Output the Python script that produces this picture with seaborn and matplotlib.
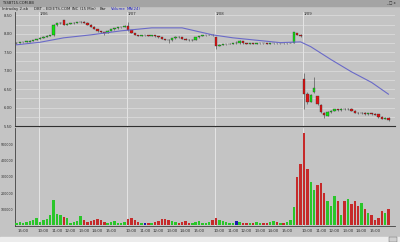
import numpy as np
import pandas as pd
import matplotlib
matplotlib.use("Agg")
import matplotlib.pyplot as plt
import seaborn as sns

# ---------------- data ----------------
opens = [7.74, 7.76, 7.77, 7.78, 7.79, 7.81, 7.83,
         7.86, 7.89, 7.92, 7.95, 7.97, 8.24, 8.28, 8.36, 8.25, 8.27, 8.28, 8.30, 8.31, 8.32, 8.30, 8.25, 8.19, 8.13, 8.07, 8.04, 8.02, 8.08, 8.12, 8.15, 8.17, 8.18,
         8.22, 8.10, 8.02, 7.97, 7.95, 7.96, 7.96, 7.95, 7.96, 7.93, 7.90, 7.86, 7.84, 7.82, 7.88, 7.92, 7.90, 7.87, 7.84, 7.82, 7.84, 7.90, 7.94, 7.96, 7.97, 7.98,
         7.90, 7.68, 7.70, 7.71, 7.72, 7.73, 7.74, 7.74, 7.80, 7.74, 7.73, 7.74, 7.73, 7.74, 7.75, 7.74, 7.73, 7.74, 7.75, 7.74, 7.75, 7.74, 7.75, 7.76, 8.02, 7.98,
         6.78, 6.38, 6.16, 6.43, 6.30, 6.08, 5.85, 5.78, 5.88, 5.92, 5.95, 5.94, 5.96, 5.95, 5.97, 5.92, 5.86, 5.84, 5.85, 5.83, 5.84, 5.82, 5.82, 5.74, 5.70, 5.73]
closes = [7.76, 7.77, 7.78, 7.80, 7.81, 7.83, 7.86,
          7.89, 7.92, 7.95, 7.97, 8.24, 8.28, 8.30, 8.25, 8.27, 8.28, 8.30, 8.31, 8.32, 8.30, 8.25, 8.19, 8.13, 8.07, 8.04, 8.02, 8.08, 8.12, 8.15, 8.17, 8.18, 8.20,
          8.10, 8.02, 7.97, 7.95, 7.96, 7.96, 7.95, 7.96, 7.93, 7.90, 7.86, 7.84, 7.82, 7.88, 7.92, 7.90, 7.87, 7.84, 7.82, 7.84, 7.90, 7.94, 7.96, 7.97, 7.98, 7.96,
          7.68, 7.70, 7.71, 7.72, 7.73, 7.74, 7.74, 7.80, 7.74, 7.73, 7.74, 7.73, 7.74, 7.75, 7.74, 7.73, 7.74, 7.75, 7.74, 7.75, 7.74, 7.75, 7.76, 8.05, 7.98, 7.93,
          6.38, 6.16, 6.35, 6.52, 6.10, 5.87, 5.80, 5.88, 5.92, 5.95, 5.94, 5.96, 5.95, 5.97, 5.92, 5.86, 5.84, 5.85, 5.83, 5.84, 5.82, 5.80, 5.74, 5.70, 5.73, 5.66]
highs = [7.77, 7.78, 7.79, 7.81, 7.82, 7.84, 7.87,
         7.90, 7.93, 7.96, 7.98, 8.27, 8.30, 8.32, 8.38, 8.29, 8.30, 8.31, 8.33, 8.34, 8.34, 8.31, 8.26, 8.20, 8.14, 8.08, 8.05, 8.09, 8.13, 8.16, 8.18, 8.19, 8.23,
         8.33, 8.11, 8.03, 7.98, 7.97, 7.98, 7.97, 7.97, 7.97, 7.94, 7.91, 7.87, 7.85, 7.89, 7.94, 7.93, 7.91, 7.88, 7.85, 7.85, 7.91, 7.95, 7.97, 7.98, 7.99, 7.99,
         7.92, 7.72, 7.72, 7.73, 7.74, 7.75, 7.81, 7.82, 7.81, 7.75, 7.75, 7.75, 7.75, 7.76, 7.76, 7.75, 7.75, 7.76, 7.76, 7.76, 7.76, 7.76, 7.77, 8.06, 8.03, 7.99,
         6.95, 6.42, 6.38, 6.82, 6.32, 6.10, 5.88, 5.90, 5.94, 5.97, 5.97, 5.98, 5.98, 5.99, 5.98, 5.93, 5.88, 5.87, 5.87, 5.86, 5.86, 5.84, 5.83, 5.76, 5.74, 5.75]
lows = [7.73, 7.75, 7.76, 7.77, 7.78, 7.80, 7.82,
        7.85, 7.88, 7.91, 7.94, 7.94, 8.22, 8.26, 8.23, 8.24, 8.26, 8.27, 8.29, 8.30, 8.29, 8.24, 8.18, 8.12, 8.06, 8.03, 7.98, 8.01, 8.07, 8.11, 8.14, 8.16, 8.17,
        8.08, 8.01, 7.96, 7.94, 7.94, 7.95, 7.94, 7.94, 7.92, 7.89, 7.85, 7.83, 7.76, 7.81, 7.87, 7.89, 7.86, 7.83, 7.81, 7.81, 7.83, 7.89, 7.93, 7.95, 7.96, 7.95,
        7.60, 7.66, 7.69, 7.70, 7.71, 7.72, 7.73, 7.73, 7.72, 7.72, 7.72, 7.72, 7.72, 7.73, 7.73, 7.72, 7.72, 7.73, 7.73, 7.73, 7.73, 7.73, 7.75, 7.75, 7.96, 7.92,
        5.95, 6.10, 6.14, 6.40, 6.08, 5.85, 5.73, 5.76, 5.86, 5.90, 5.92, 5.92, 5.93, 5.94, 5.90, 5.84, 5.82, 5.82, 5.81, 5.81, 5.80, 5.79, 5.72, 5.68, 5.69, 5.64]
volumes = [15000, 20000, 12000, 18000, 25000, 30000, 45000,
           20000, 30000, 40000, 60000, 155000, 70000, 60000, 50000, 45000, 10000, 20000, 25000, 55000, 30000, 20000, 25000, 30000, 35000, 30000, 20000, 15000, 20000, 25000, 15000, 10000, 20000,
           35000, 45000, 30000, 20000, 15000, 10000, 15000, 10000, 20000, 25000, 40000, 35000, 30000, 25000, 20000, 15000, 20000, 25000, 15000, 10000, 20000, 25000, 15000, 10000, 20000, 30000,
           45000, 30000, 25000, 20000, 15000, 10000, 25000, 20000, 15000, 10000, 15000, 10000, 20000, 15000, 10000, 15000, 20000, 25000, 20000, 15000, 10000, 20000, 30000, 110000, 300000, 380000,
           575000, 350000, 270000, 220000, 250000, 260000, 200000, 150000, 120000, 180000, 150000, 60000, 150000, 160000, 130000, 150000, 120000, 140000, 100000, 75000, 60000, 30000, 45000, 85000, 75000, 100000]
ma_index = [0, 7, 14, 22, 31, 40, 49, 58, 64, 78, 84, 87, 93, 99, 105, 110]
ma_values = [7.70, 7.77, 7.89, 7.97, 8.08, 8.16, 8.16, 7.97, 7.89, 7.76, 7.78, 7.65, 7.30, 6.97, 6.68, 6.36]
day_starts = [7, 33, 59, 85]
day_labels = ["1/06", "1/07", "1/08", "1/09"]
time_tick_pos = [2] + [s + k for s in day_starts for k in (1, 5, 9, 13, 17, 21)]
time_tick_labels = ["15:00"] + ["10:00", "11:00", "12:00", "13:00", "14:00", "15:00"] * 4
price_ticks = [5.50, 6.00, 6.50, 7.00, 7.50, 8.00, 8.50]
vol_ticks = [100000, 200000, 300000, 400000, 500000]

# ---------------- styling ----------------
BG = "#c4c4c4"
GRID = "#dadada"
GREEN = "#10e010"
RED = "#e01010"
BLUE = "#0000c8"
sns.set_style("white", {"axes.facecolor": BG, "figure.facecolor": BG})
plt.rcParams["font.family"] = ["DejaVu Sans"]

W, H = 400, 242
fig = plt.figure(figsize=(W / 100, H / 100), dpi=100)
fig.patch.set_facecolor(BG)

def rect(x0, y0, x1, y1):
    return [x0 / W, 1 - y1 / H, (x1 - x0) / W, (y1 - y0) / H]

# title bar
fig.patches.append(plt.Rectangle((0, 1 - 6 / H), 1, 6 / H, transform=fig.transFigure,
                                 color="#a4a4a4", zorder=0))
fig.text(2 / W, 1 - 3 / H, "TSSBT15.COM.BB", fontsize=2.6, va="center", color="#202020")
fig.text(396 / W, 1 - 3 / H, "_ □ x", fontsize=2.6, va="center", ha="right", color="#202020")
# header row
hy = 1 - 9 / H
fig.text(2 / W, hy, "Intraday 2.ab", fontsize=2.8, va="center", color="#202020")
fig.text(34 / W, hy, "DBT - EDIETS.COM INC (15 Min)", fontsize=2.8, va="center", color="#202020")
fig.text(100 / W, hy, "Bar", fontsize=2.8, va="center", color="#202020")
fig.text(111 / W, hy, "Volume", fontsize=2.8, va="center", color="#2020c0")
fig.text(127 / W, hy, "MA(24)", fontsize=2.8, va="center", color="#2020c0")

n = len(closes)
idx = np.arange(n)
df = pd.DataFrame({"i": idx, "open": opens, "close": closes, "high": highs,
                   "low": lows, "volume": volumes})
df["dir"] = np.where(df["close"] > df["open"], "up",
                     np.where(df["close"] < df["open"], "down", "flat"))
pal = {"up": GREEN, "down": RED, "flat": BLUE}

# ---------------- price panel ----------------
ax1 = fig.add_axes(rect(15, 12, 395, 126))
ax1.set_facecolor(BG)
xlim = (-0.4, 111.9)
ax1.set_xlim(*xlim)
ax1.set_ylim(5.51, 8.59)
for p in np.arange(5.75, 8.6, 0.25):
    ax1.axhline(p, color=GRID, lw=0.6, zorder=0)
for s in day_starts:
    ax1.axvline(s - 0.3, color="#e4e4e4", lw=0.7, zorder=0)
for s, lab in zip(day_starts, day_labels):
    ax1.text(s, 8.585, lab, fontsize=2.8, va="top", ha="left", color="#303030")

ax1.vlines(df["i"], df["low"], df["high"], color="#404040", lw=0.4, zorder=2)
body_bottom = np.minimum(df["open"], df["close"])
body_h = np.maximum(np.abs(df["close"] - df["open"]), 0.008)
ax1.bar(df["i"], body_h, bottom=body_bottom, width=0.72,
        color=[pal[d] for d in df["dir"]], edgecolor="#303030", linewidth=0.25, zorder=3)
ma_df = pd.DataFrame({"i": ma_index, "ma": ma_values})
sns.lineplot(data=ma_df, x="i", y="ma", ax=ax1, color="#6a6ac8", lw=0.8, zorder=4)
ax1.set_xlabel("")
ax1.set_ylabel("")
ax1.set_yticks(price_ticks)
ax1.set_yticklabels([f"{p:.2f}" for p in price_ticks])
ax1.set_xticks([])
ax1.tick_params(axis="y", labelsize=2.8, length=1.2, width=0.4, pad=0.6, colors="#303030")
for sp in ("top", "right"):
    ax1.spines[sp].set_visible(False)
ax1.spines["left"].set_color("#404040")
ax1.spines["left"].set_linewidth(0.6)
ax1.spines["bottom"].set_color("#303030")
ax1.spines["bottom"].set_linewidth(0.8)

# ---------------- volume panel ----------------
ax2 = fig.add_axes(rect(15, 128, 395, 226))
ax2.set_facecolor(BG)
sns.barplot(data=df, x="i", y="volume", hue="dir", palette=pal, native_scale=True,
            dodge=False, width=0.72, legend=False, ax=ax2, zorder=3, linewidth=0)
ax2.set_xlim(*xlim)
ax2.set_ylim(-6000, 606000)
for s in day_starts:
    ax2.axvline(s - 0.3, color="#e4e4e4", lw=0.7, zorder=0)
ax2.set_yticks(vol_ticks)
ax2.set_yticklabels([str(v) for v in vol_ticks])
ax2.set_xticks(time_tick_pos)
ax2.set_xticklabels(time_tick_labels)
ax2.set_xlabel("")
ax2.set_ylabel("")
ax2.tick_params(axis="x", labelsize=2.8, length=1.2, width=0.4, pad=0.6, colors="#303030")
ax2.tick_params(axis="y", labelsize=2.3, length=0.8, width=0.4, pad=0.4, colors="#303030")
for sp in ("top", "right"):
    ax2.spines[sp].set_visible(False)
for sp in ("left", "bottom"):
    ax2.spines[sp].set_color("#404040")
    ax2.spines[sp].set_linewidth(0.6)

# scrollbar at the bottom
fig.patches.append(plt.Rectangle((0, 0), 1, 5 / H, transform=fig.transFigure,
                                 color="#ececec", zorder=0))
fig.patches.append(plt.Rectangle((389 / W, 0.2 / H), 8 / W, 4.6 / H, transform=fig.transFigure,
                                 facecolor="#d0d0d0", edgecolor="#606060", lw=0.3, zorder=1))

fig.savefig("out.png", dpi=100, facecolor=BG)
